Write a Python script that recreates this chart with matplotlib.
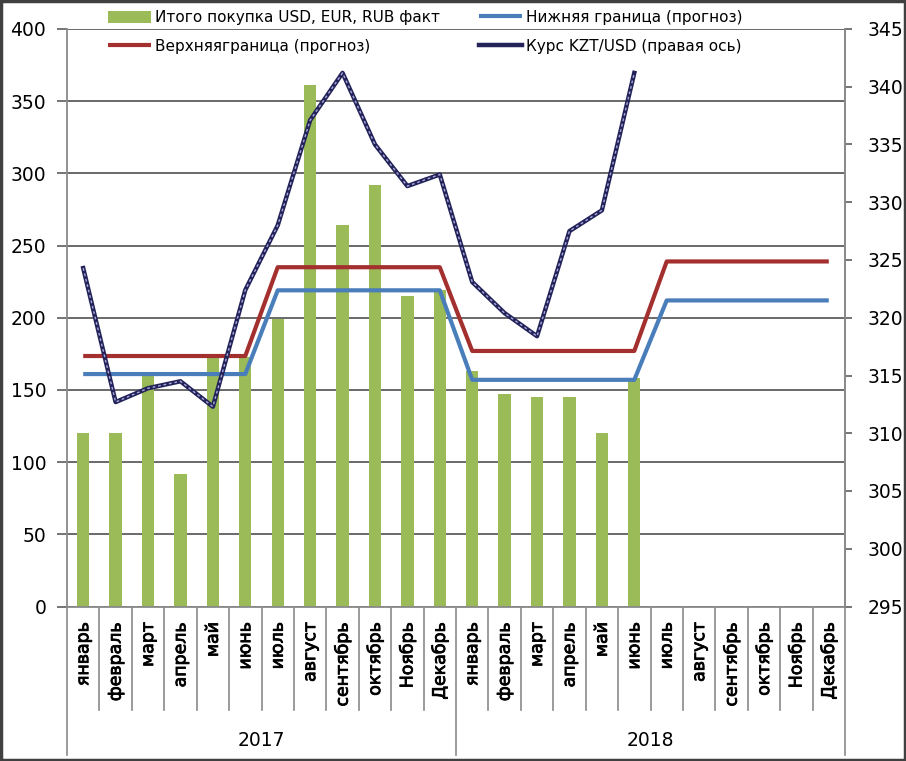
import matplotlib
matplotlib.use("Agg")
import matplotlib.pyplot as plt
import matplotlib.transforms as mtransforms
import matplotlib.patheffects as pe
from matplotlib.patches import Rectangle
import numpy as np

plt.rcParams['font.family'] = ['DejaVu Sans']

months = ['январь', 'февраль', 'март', 'апрель', 'май', 'июнь', 'июль',
          'август', 'сентябрь', 'октябрь', 'Ноябрь', 'Декабрь']
years = ['2017', '2018']
month_labels = months * 2

purchases = [120, 120, 161, 92, 172, 173, 199, 361, 264, 292, 215, 219,
             163, 147, 145, 145, 120, 158]
lower_bound = [161] * 6 + [219] * 6 + [157] * 6 + [212] * 6
upper_bound = [173.5] * 6 + [235] * 6 + [177] * 6 + [239] * 6
kzt_usd = [324.3, 312.7, 313.9, 314.5, 312.3, 322.4, 328.0, 337.1, 341.2,
           335.0, 331.4, 332.4, 323.1, 320.4, 318.4, 327.5, 329.3, 341.2]

label_bars = 'Итого покупка USD, EUR, RUB факт'
label_lower = 'Нижняя граница (прогноз)'
label_upper = 'Верхняяграница (прогноз)'
label_kzt = 'Курс KZT/USD (правая ось)'

c_green = '#9BBB59'
c_red = '#A3302E'
c_blue = '#4A7EBB'
c_navy = '#23235A'
c_grid = '#5E5E5E'
c_sep = '#8A8A8A'

fig = plt.figure(figsize=(9.06, 7.61), dpi=100)
ax = fig.add_axes([67 / 906, 1 - 606.5 / 761, (845 - 67) / 906, (606.5 - 29) / 761])

n = len(month_labels)
x_all = np.arange(n)
x_bar = np.arange(len(purchases))
x_kzt = np.arange(len(kzt_usd))

ax.set_axisbelow(True)
ax.yaxis.grid(True, color=c_grid, lw=1.3)
bars = ax.bar(x_bar, purchases, width=0.38, color=c_green, label=label_bars, zorder=2)
l_up, = ax.plot(x_all, upper_bound, color=c_red, lw=3, label=label_upper, zorder=3,
                solid_capstyle='butt')
l_lo, = ax.plot(x_all, lower_bound, color=c_blue, lw=3, label=label_lower, zorder=3,
                solid_capstyle='butt')

ax.set_xlim(-0.5, n - 0.5)
ax.set_ylim(0, 400)
ax.set_yticks(np.arange(0, 401, 50))
ax.tick_params(axis='y', labelsize=13.5, length=7, width=1.2, color=c_grid, pad=8)
ax.set_xticks(x_all)
ax.set_xticklabels(month_labels, rotation=90, fontsize=12.5, va='top')
for t in ax.get_xticklabels():
    t.set_path_effects([pe.withStroke(linewidth=0.6, foreground='black')])
ax.tick_params(axis='x', length=0, pad=11)
ax.spines['top'].set_visible(False)
for s in ['left', 'bottom', 'right']:
    ax.spines[s].set_color(c_sep)
    ax.spines[s].set_linewidth(1.3)

ax2 = ax.twinx()
ax2.set_ylim(295, 345)
ax2.set_yticks(np.arange(295, 346, 5))
ax2.tick_params(axis='y', labelsize=13.5, length=5, width=1.2, color=c_grid, pad=11)
for s in ['top', 'left', 'bottom']:
    ax2.spines[s].set_visible(False)
ax2.spines['right'].set_color(c_sep)
ax2.spines['right'].set_linewidth(1.3)
l_kzt, = ax2.plot(x_kzt, kzt_usd, color=c_navy, lw=3.2, label=label_kzt, zorder=4)
ax2.plot(x_kzt, kzt_usd, color='#A8A8D8', lw=1.0, ls=(0, (2, 2)), zorder=5)

# category separators
trans = mtransforms.blended_transform_factory(ax.transData, ax.transAxes)
ax_h = 606.5 - 29
y_month = -(710 - 606.5) / ax_h
y_year = -(755 - 606.5) / ax_h
for i in range(n + 1):
    xs = i - 0.5
    is_year = (i % 12 == 0)
    ax.plot([xs, xs], [0, y_year if is_year else y_month], transform=trans,
            color=c_sep, lw=1.2, clip_on=False)
for k, yr in enumerate(years):
    ax.text(k * 12 + 5.5, -(740 - 606.5) / ax_h, yr, transform=trans,
            ha='center', va='center', fontsize=13.5)

fig.legend(handles=[bars, l_up, l_lo, l_kzt],
           labels=[label_bars, label_upper, label_lower, label_kzt],
           ncol=2, loc='upper left', bbox_to_anchor=(108 / 906, 1 - 10 / 761),
           frameon=False, fontsize=11, handlelength=2.8, handleheight=0.8,
           columnspacing=2.6, handletextpad=0.25, labelspacing=0.9,
           borderaxespad=0, borderpad=0)

fig.add_artist(Rectangle((0.001, 0.001), 0.998, 0.998, transform=fig.transFigure,
                         fill=False, edgecolor='#404040', lw=2.5))

fig.savefig('out.png', dpi=100)
